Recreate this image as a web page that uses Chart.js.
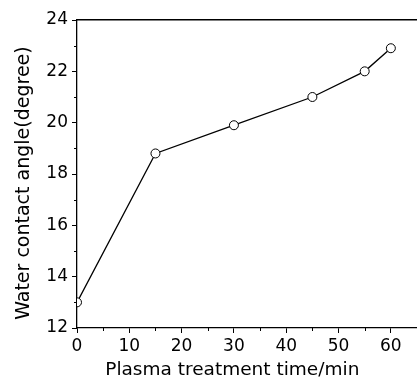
<!DOCTYPE html>
<html>
<head>
<meta charset="utf-8">
<script src="https://cdn.jsdelivr.net/npm/chart.js@4"></script>
<style>
html,body{margin:0;padding:0;background:#fff;}
#wrap{width:417px;height:381px;}
</style>
</head>
<body>
<div id="wrap"><canvas id="grafico" width="417" height="381"></canvas></div>
<script>
const tempos=[0,15,30,45,55,60];
const angulos=[13.0,18.8,19.9,21.0,22.0,22.9];
const xTicks=[0,10,20,30,40,50,60];
const xMinor=[5,15,25,35,45,55,65];
const yTicks=[12,14,16,18,20,22,24];
const yMinor=[13,15,17,19,21,23];

const fonte='"DejaVu Sans", sans-serif';
const nb='\u00a0';

// ticks menores (o Chart.js nao tem minor ticks)
const menores={
  id:'menores',
  afterDraw(chart){
    const ctx=chart.ctx,x=chart.scales.x,y=chart.scales.y;
    ctx.save();
    ctx.strokeStyle='#000';ctx.lineWidth=1;
    ctx.beginPath();
    xMinor.forEach(function(v){
      const px=Math.round(x.getPixelForValue(v))+0.5;
      if(px>chart.width) return;
      ctx.moveTo(px,y.bottom);ctx.lineTo(px,y.bottom+3);
    });
    yMinor.forEach(function(v){
      const py=Math.round(y.getPixelForValue(v))+0.5;
      ctx.moveTo(x.left,py);ctx.lineTo(x.left-3,py);
    });
    ctx.stroke();
    ctx.restore();
  }
};

const semPadding=function(s){s.paddingLeft=0;s.paddingRight=0;};

new Chart(document.getElementById('grafico'),{
  type:'line',
  data:{datasets:[{
    data:tempos.map(function(t,i){return {x:t,y:angulos[i]};}),
    borderColor:'#000',borderWidth:1.3,
    pointRadius:4.5,pointHoverRadius:4.5,
    pointBackgroundColor:'#fff',pointBorderColor:'#000',pointBorderWidth:1,
    tension:0,clip:{left:0,top:false,right:false,bottom:false}
  }]},
  options:{
    responsive:false,animation:false,
    layout:{autoPadding:false,padding:{top:20,right:0,left:0,bottom:0}},
    plugins:{legend:{display:false},tooltip:{enabled:false}},
    scales:{
      x:{
        type:'linear',min:0,max:65,
        afterBuildTicks:function(s){s.ticks=xTicks.map(function(v){return {value:v};});},
        afterFit:function(s){s.height=53;semPadding(s);},
        grid:{drawOnChartArea:false,drawTicks:true,tickLength:5,tickColor:'#000'},
        border:{color:'#000',width:1.3},
        ticks:{color:'#000',font:{family:fonte,size:17},padding:3,maxRotation:0},
        title:{display:true,text:'Plasma treatment time/min'+nb.repeat(5),color:'#000',font:{family:fonte,size:18.5},padding:{top:0,bottom:0}}
      },
      x2:{
        type:'linear',position:'top',min:0,max:65,
        afterFit:function(s){s.height=0;semPadding(s);},
        grid:{display:false},
        border:{color:'#000',width:1.5},
        ticks:{display:false}
      },
      y:{
        min:12,max:24,
        afterBuildTicks:function(s){s.ticks=yTicks.map(function(v){return {value:v};});},
        afterFit:function(s){s.width=77;},
        grid:{drawOnChartArea:false,drawTicks:true,tickLength:5,tickColor:'#000'},
        border:{color:'#000',width:1.3},
        ticks:{color:'#000',font:{family:fonte,size:17},padding:4},
        title:{display:true,text:'Water contact angle(degree)'+nb.repeat(3),color:'#000',font:{family:fonte,size:19},padding:{top:13,bottom:0}}
      }
    }
  },
  plugins:[menores]
});
</script>
</body>
</html>
